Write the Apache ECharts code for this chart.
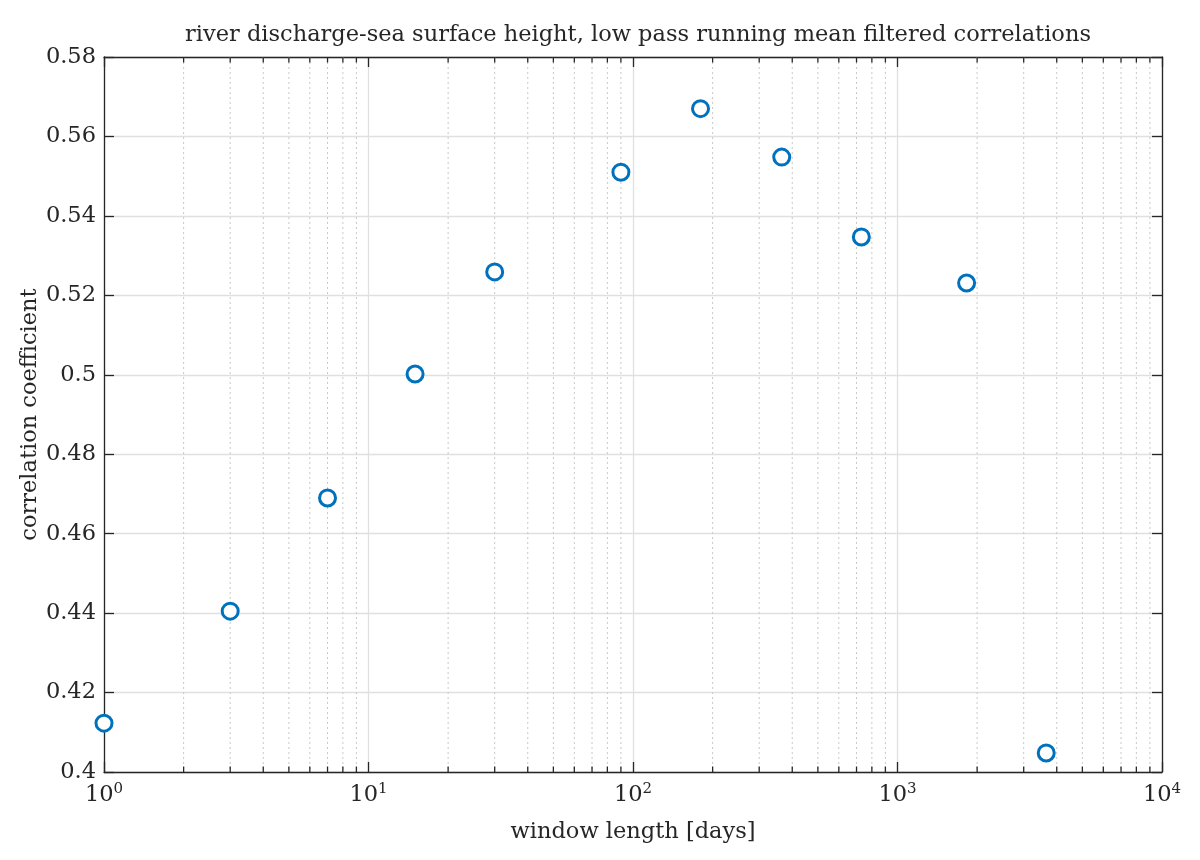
<!DOCTYPE html>
<html>
<head>
<meta charset="utf-8">
<title>river discharge-sea surface height correlations</title>
<script src="https://cdn.jsdelivr.net/npm/echarts@6/dist/echarts.min.js"></script>
<style>
  html, body { margin: 0; padding: 0; background: #fff; }
  #main { width: 1200px; height: 860px; }
</style>
</head>
<body>
<div id="main"></div>
<script>
// window length in days and the correlation
var windowDays = [1, 3, 7, 15, 30, 90, 180, 365, 730, 1825, 3650];
var corrCoef = [0.4123, 0.4405, 0.4690, 0.5002, 0.5259, 0.5510, 0.5670, 0.5548, 0.5347, 0.5231, 0.4048];

// minor ticks of the log axis (2..9 in each decade)
var minorTicks = [2, 3, 4, 5, 6, 7, 8, 9,
                  20, 30, 40, 50, 60, 70, 80, 90,
                  200, 300, 400, 500, 600, 700, 800, 900,
                  2000, 3000, 4000, 5000, 6000, 7000, 8000, 9000];

var FONT = 'DejaVu Serif';
var FS = 22.5;
var INK = '#262626';
var yMin = 0.4, yMax = 0.58, yStep = 0.02;

var myChart = echarts.init(document.getElementById('main'));

var supLabel = {
    formatter: function (v) {
        var e = Math.round(Math.log(v) / Math.LN10);
        return '{base|10}{sup|' + e + '}';
    },
    margin: 10,
    showMinLabel: true,
    showMaxLabel: true,
    rich: {
        base: { fontFamily: FONT, fontSize: FS, color: INK, lineHeight: 27 },
        sup: { fontFamily: FONT, fontSize: 15, color: INK, lineHeight: 14, verticalAlign: 'top' }
    }
};

var option = {
    backgroundColor: '#fff',
    animation: false,
    title: {
        text: 'river discharge-sea surface height, low pass running mean filtered correlations',
        left: 633,
        top: 19,
        textAlign: 'center',
        textStyle: { fontFamily: FONT, fontSize: FS, fontWeight: 'normal', color: INK }
    },
    grid: { left: 104, right: 38, top: 57, bottom: 88, containLabel: false },
    xAxis: [
        {
            type: 'log',
            logBase: 10,
            min: 1,
            max: 10000,
            position: 'bottom',
            name: 'window length [days]',
            nameLocation: 'middle',
            nameGap: 49,
            nameTextStyle: { fontFamily: FONT, fontSize: FS, color: INK },
            axisLine: { show: true, lineStyle: { color: INK, width: 1.3 } },
            axisTick: { show: true, inside: true, length: 10, lineStyle: { color: INK, width: 1.3 } },
            axisLabel: supLabel,
            splitLine: { show: true, lineStyle: { color: '#e0e0e0', width: 1.3 } }
        },
        {
            type: 'log',
            logBase: 10,
            min: 1,
            max: 10000,
            position: 'top',
            axisLine: { show: true, lineStyle: { color: INK, width: 1.3 } },
            axisTick: { show: true, inside: true, length: 10, lineStyle: { color: INK, width: 1.3 } },
            axisLabel: { show: false },
            splitLine: { show: false }
        }
    ],
    yAxis: [
        {
            type: 'value',
            min: yMin,
            max: yMax,
            interval: yStep,
            position: 'left',
            name: 'correlation coefficient',
            nameLocation: 'middle',
            nameGap: 62,
            nameMoveOverlap: false,
            nameTextStyle: { fontFamily: FONT, fontSize: FS, color: INK },
            axisLine: { show: true, lineStyle: { color: INK, width: 1.3 } },
            axisTick: { show: true, inside: true, length: 10, lineStyle: { color: INK, width: 1.3 } },
            axisLabel: {
                margin: 8,
                fontFamily: FONT,
                fontSize: FS,
                color: INK,
                formatter: function (v) { return String(+v.toFixed(2)); }
            },
            splitLine: { show: true, lineStyle: { color: '#e0e0e0', width: 1.3 } }
        },
        {
            type: 'value',
            min: yMin,
            max: yMax,
            interval: yStep,
            position: 'right',
            axisLine: { show: true, lineStyle: { color: INK, width: 1.3 } },
            axisTick: { show: true, inside: true, length: 10, lineStyle: { color: INK, width: 1.3 } },
            axisLabel: { show: false },
            splitLine: { show: false }
        }
    ],
    series: [
        {
            // dotted minor grid and small ticks on the log axis
            type: 'custom',
            xAxisIndex: 0,
            yAxisIndex: 0,
            silent: true,
            z: 1,
            data: minorTicks.map(function (v) { return [v, yMin]; }),
            renderItem: function (params, api) {
                var x = api.coord([api.value(0), yMin])[0];
                var cs = params.coordSys;
                var top = cs.y, bot = cs.y + cs.height;
                return {
                    type: 'group',
                    children: [
                        { type: 'line', shape: { x1: x, y1: top, x2: x, y2: bot },
                          style: { stroke: '#c8c8c8', lineWidth: 1, lineDash: [2, 3] } },
                        { type: 'line', shape: { x1: x, y1: bot, x2: x, y2: bot - 5.5 },
                          style: { stroke: INK, lineWidth: 1.3 } },
                        { type: 'line', shape: { x1: x, y1: top, x2: x, y2: top + 5.5 },
                          style: { stroke: INK, lineWidth: 1.3 } }
                    ]
                };
            }
        },
        {
            name: 'correlation',
            type: 'scatter',
            xAxisIndex: 0,
            yAxisIndex: 0,
            z: 5,
            symbol: 'circle',
            symbolSize: 16,
            data: windowDays.map(function (d, i) { return [d, corrCoef[i]]; }),
            itemStyle: { color: '#ffffff', borderColor: '#0072BD', borderWidth: 3, opacity: 1 },
            emphasis: { disabled: true }
        }
    ]
};

myChart.setOption(option);
</script>
</body>
</html>
